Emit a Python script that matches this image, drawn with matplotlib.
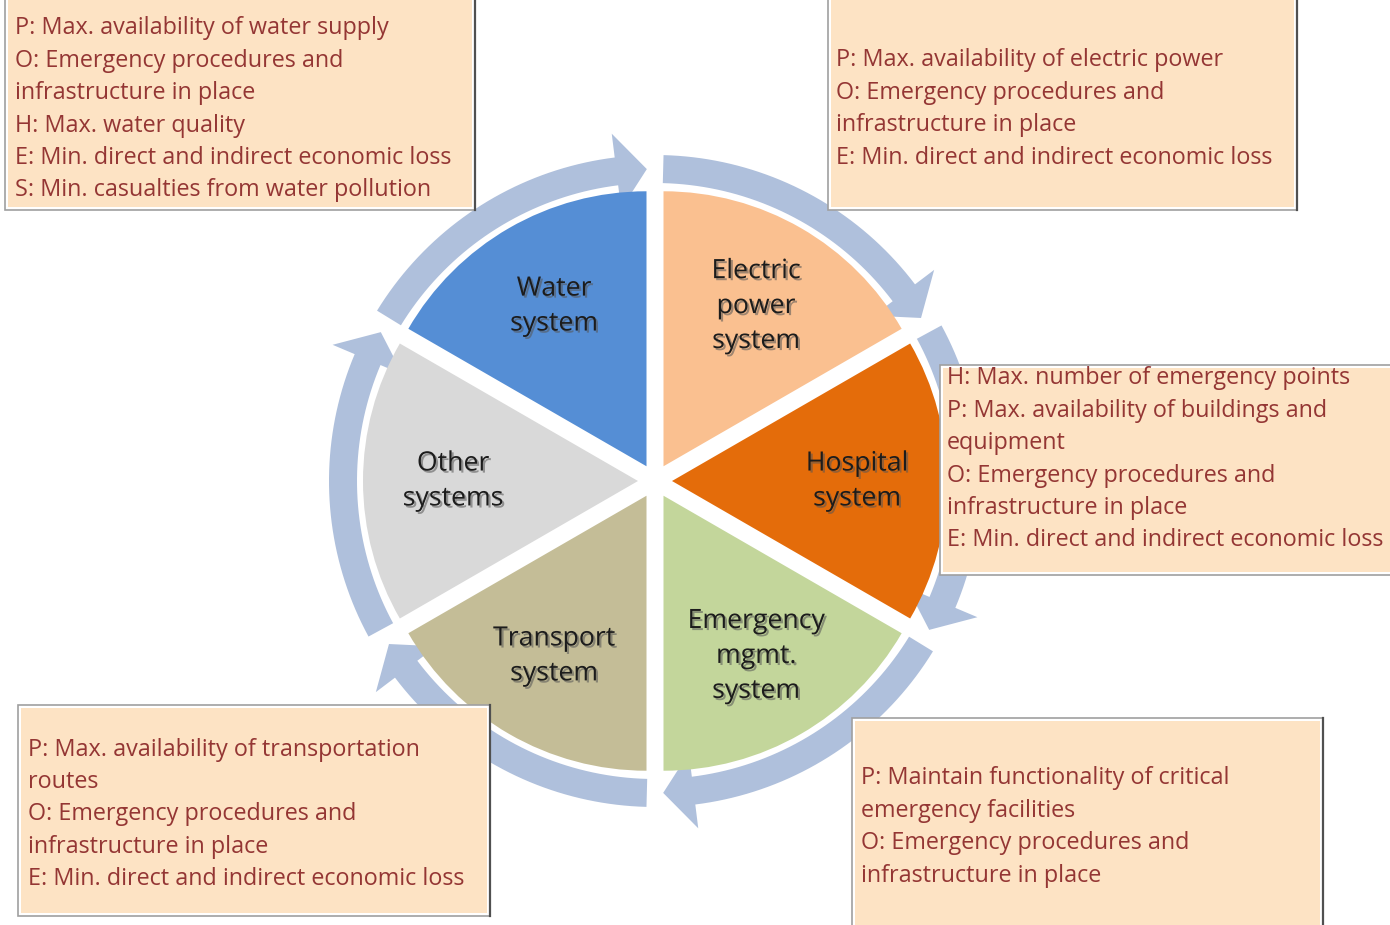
import numpy as np
import matplotlib
matplotlib.use("Agg")
import matplotlib.pyplot as plt
from matplotlib.patches import Rectangle, Polygon
import matplotlib.patheffects as pe

# ---------------- data ----------------
systems = ["Electric\npower\nsystem", "Hospital\nsystem", "Emergency\nmgmt.\nsystem",
           "Transport\nsystem", "Other\nsystems", "Water\nsystem"]
shares = [1, 1, 1, 1, 1, 1]
colors = ["#FAC090", "#E46C0A", "#C3D69B", "#C4BD97", "#D9D9D9", "#558ED5"]

water_goals = ["P: Max. availability of water supply",
               "O: Emergency procedures and",
               "infrastructure in place",
               "H: Max. water quality",
               "E: Min. direct and indirect economic loss",
               "S: Min. casualties from water pollution"]
electric_goals = ["P: Max. availability of electric power",
                  "O: Emergency procedures and",
                  "infrastructure in place",
                  "E: Min. direct and indirect economic loss"]
hospital_goals = ["H: Max. number of emergency points",
                  "P: Max. availability of buildings and",
                  "equipment",
                  "O: Emergency procedures and",
                  "infrastructure in place",
                  "E: Min. direct and indirect economic loss"]
transport_goals = ["P: Max. availability of transportation",
                   "routes",
                   "O: Emergency procedures and",
                   "infrastructure in place",
                   "E: Min. direct and indirect economic loss"]
emergency_goals = ["P: Maintain functionality of critical",
                   "emergency facilities",
                   "O: Emergency procedures and",
                   "infrastructure in place"]

# ---------------- layout (pixels, y measured from top) ----------------
W, H = 1390, 925
FONT = "Open Sans"
TXT_COLOR = "#943634"
BOX_FILL = "#FDE3C4"
RING = "#AFC0DC"

fig = plt.figure(figsize=(W / 100, H / 100), dpi=100)
ax = fig.add_axes([0, 0, 1, 1])

cx, cy = 655, H - 481
R = 275
wedges, _ = ax.pie(shares, colors=colors, startangle=90, counterclock=False,
                   radius=R, center=(cx, cy), explode=[17] * len(shares),
                   frame=True, wedgeprops=dict(linewidth=0, zorder=2))

shadow = [pe.withSimplePatchShadow(offset=(1.5, -1.5), shadow_rgbFace="#555555", alpha=0.55)]
for w, lab in zip(wedges, systems):
    a = np.deg2rad((w.theta1 + w.theta2) / 2)
    ax.text(cx + 202 * np.cos(a), cy + 202 * np.sin(a), lab, ha="center", va="center",
            fontsize=19.2, family=FONT, color="#1C1C1C", linespacing=1.33,
            path_effects=shadow, zorder=5)

# ring arrows (clockwise)
rc, hw, hh, hl = 312, 14, 38, 5.6
def pt(a, r):
    t = np.deg2rad(a)
    return (cx + r * np.cos(t), cy + r * np.sin(t))

for w in wedges:
    tail = w.theta2 - 1.5
    tip = w.theta1 + 1.5
    base = tip + hl
    angs = np.linspace(tail, base, 40)
    outer = [pt(a, rc + hw) for a in angs]
    inner = [pt(a, rc - hw) for a in angs[::-1]]
    poly = outer + [pt(base, rc + hh), pt(tip, rc), pt(base, rc - hh)] + inner
    ax.add_patch(Polygon(poly, closed=True, facecolor=RING, edgecolor="none", zorder=1))

# goal boxes
def box(x0, y0, x1, y1, lines, tx, ty0, step=32.4):
    ax.add_patch(Rectangle((x0, H - y1), x1 - x0, y1 - y0, facecolor="white",
                           edgecolor="#A0A0A0", lw=1.2, zorder=3))
    ax.add_patch(Rectangle((x0 + 3, H - y1 + 3), x1 - x0 - 6, y1 - y0 - 6,
                           facecolor=BOX_FILL, edgecolor="none", zorder=3))
    ax.plot([x1, x1], [H - y1, H - y0], color="#505050", lw=1.6, zorder=3)
    for i, ln in enumerate(lines):
        ax.text(tx, H - (ty0 + 1.5 + i * step), ln, ha="left", va="center", fontsize=16.8,
                family=FONT, color=TXT_COLOR, zorder=4)

box(5, -5, 475, 210, water_goals, 15, 27)
box(828, -5, 1297, 210, electric_goals, 836, 59)
box(940, 365, 1400, 575, hospital_goals, 947, 377)
box(18, 705, 490, 916, transport_goals, 28, 748)
box(852, 718, 1323, 935, emergency_goals, 861, 777)

ax.set_xlim(0, W)
ax.set_ylim(0, H)
ax.set_aspect("auto")
ax.axis("off")
fig.savefig("out.png", dpi=100, facecolor="white")
